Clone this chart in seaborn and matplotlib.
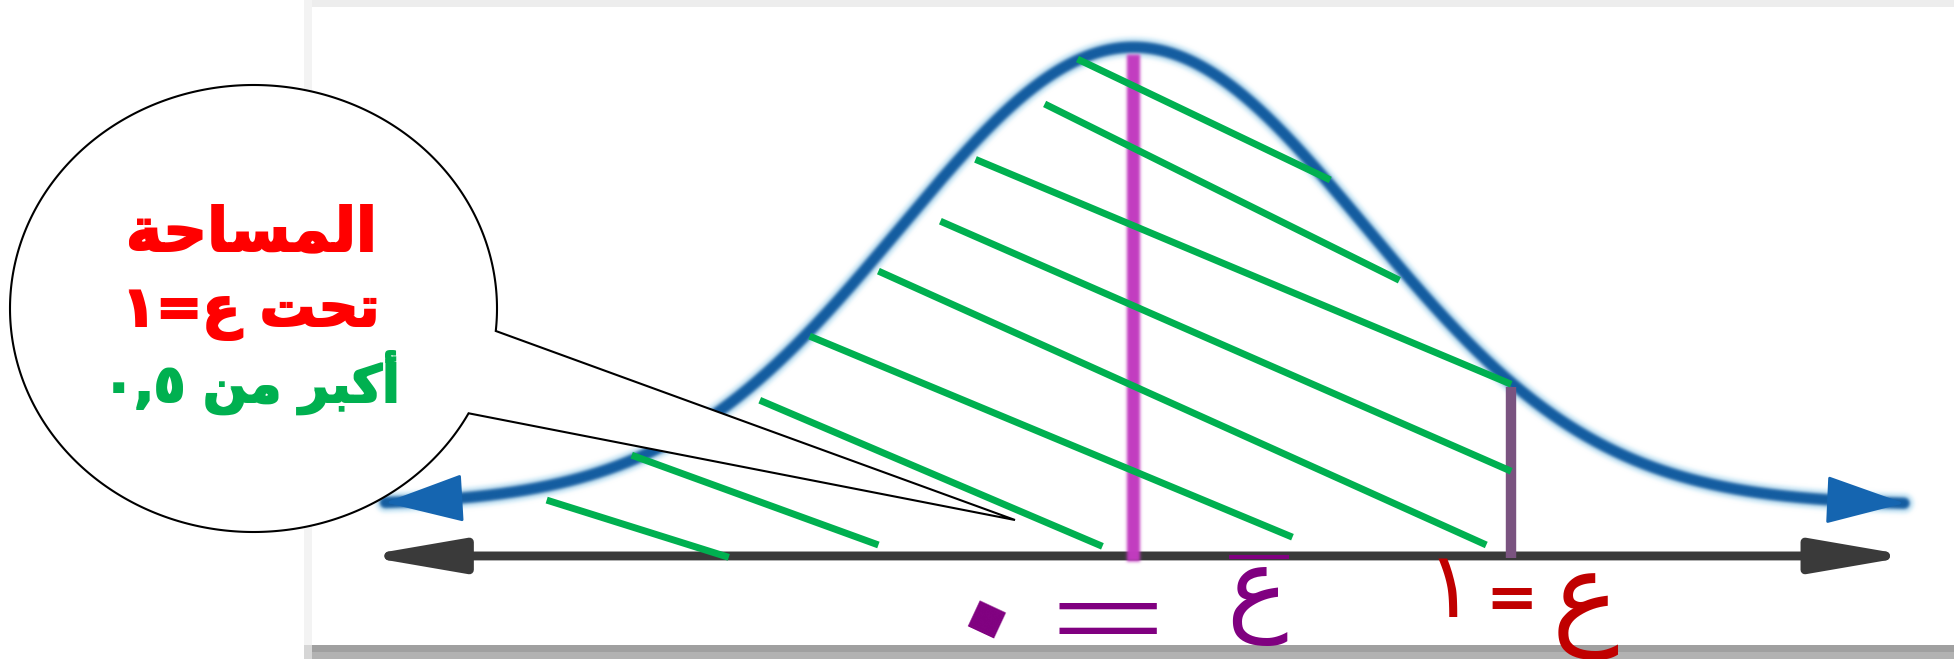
import re
import numpy as np
import matplotlib
matplotlib.use("Agg")
import matplotlib.pyplot as plt
import seaborn as sns
from matplotlib.patches import PathPatch, Rectangle, FancyArrowPatch
from matplotlib.path import Path

# ------------------------------------------------------------------
# content
# ------------------------------------------------------------------
bubble_lines = ["المساحة", "تحت ع=١", "أكبر من ٠,٥"]
bubble_colors = ["#ff0000", "#ff0000", "#00b050"]

mean_label = ["ع", "=", "٠"]        # mean of z equals zero
z_label = ["ع", "=", "١"]           # z = 1

z_mean = 0.0
z_value = 1.0
curve_sd = 0.616                     # spread of the drawn bell (z units)
curve_left, curve_right = -1.98, 2.04
axis_left, axis_right = -2.04, 2.06
axis_level = -0.111

# shading strokes under the curve (z units, relative height)
hatch_x0 = [-0.148, -0.235, -0.418, -0.511, -0.675, -0.857, -0.989, -1.328, -1.553]
hatch_y0 = [0.974, 0.876, 0.755, 0.620, 0.511, 0.369, 0.229, 0.109, 0.011]
hatch_x1 = [0.521, 0.704, 1.000, 1.000, 0.934, 0.421, -0.082, -0.675, -1.071]
hatch_y1 = [0.710, 0.491, 0.264, 0.074, -0.087, -0.070, -0.090, -0.087, -0.114]

W, H = 1954, 659

# ------------------------------------------------------------------
# Arabic contextual shaping + right-to-left ordering for matplotlib
# ------------------------------------------------------------------
_FORMS = {  # isolated, final, initial, medial
    "ا": ("\uFE8D", "\uFE8E", None, None),
    "أ": ("\uFE83", "\uFE84", None, None),
    "ب": ("\uFE8F", "\uFE90", "\uFE91", "\uFE92"),
    "ة": ("\uFE93", "\uFE94", None, None),
    "ت": ("\uFE95", "\uFE96", "\uFE97", "\uFE98"),
    "ح": ("\uFEA1", "\uFEA2", "\uFEA3", "\uFEA4"),
    "ر": ("\uFEAD", "\uFEAE", None, None),
    "س": ("\uFEB1", "\uFEB2", "\uFEB3", "\uFEB4"),
    "ع": ("\uFEC9", "\uFECA", "\uFECB", "\uFECC"),
    "ك": ("\uFED9", "\uFEDA", "\uFEDB", "\uFEDC"),
    "ل": ("\uFEDD", "\uFEDE", "\uFEDF", "\uFEE0"),
    "م": ("\uFEE1", "\uFEE2", "\uFEE3", "\uFEE4"),
    "ن": ("\uFEE5", "\uFEE6", "\uFEE7", "\uFEE8"),
}


def _shape(text):
    out = []
    for i, ch in enumerate(text):
        if ch not in _FORMS:
            out.append(ch)
            continue
        prev = text[i - 1] if i > 0 else None
        nxt = text[i + 1] if i + 1 < len(text) else None
        join_prev = prev in _FORMS and _FORMS[prev][2] is not None
        join_next = nxt in _FORMS and _FORMS[ch][2] is not None
        iso, fin, ini, med = _FORMS[ch]
        if join_prev and join_next:
            out.append(med)
        elif join_prev:
            out.append(fin)
        elif join_next:
            out.append(ini)
        else:
            out.append(iso)
    return "".join(out)


def rtl(text):
    shaped = _shape(text)
    tokens = re.findall(r"[\u0660-\u0669]+(?:[,\u066B][\u0660-\u0669]+)*|.", shaped)
    return "".join(reversed(tokens))


# ------------------------------------------------------------------
# raster filters: soft edges for strokes, heavier weight for lettering
# ------------------------------------------------------------------
class Soften:
    def __init__(self, sigma):
        self.sigma = sigma

    def __call__(self, im, dpi):
        s = self.sigma * dpi / 100.0
        r = max(1, int(np.ceil(3 * s)))
        t = np.arange(-r, r + 1)
        k = np.exp(-0.5 * (t / s) ** 2)
        k /= k.sum()
        pm = np.pad(im, ((r, r), (r, r), (0, 0))).astype(float)
        pm[..., :3] *= pm[..., 3:4]
        for axis in (0, 1):
            acc = np.zeros_like(pm)
            for off, w in zip(t, k):
                acc += w * np.roll(pm, off, axis=axis)
            pm = acc
        alpha = pm[..., 3:4]
        rgb = pm[..., :3] / np.maximum(alpha, 1e-6)
        rgb = np.where(alpha > 1e-6, rgb, 0.0)
        return np.clip(np.concatenate([rgb, alpha], axis=-1), 0, 1), -r, -r


class Thicken:
    def __init__(self, radius):
        self.radius = radius

    def __call__(self, im, dpi):
        r = int(np.ceil(self.radius))
        a = np.pad(im, ((r, r), (r, r), (0, 0))).astype(float)
        out_a = a[..., 3].copy()
        acc = a[..., :3] * a[..., 3:4]
        wsum = a[..., 3].copy()
        for dy in range(-r, r + 1):
            for dx in range(-r, r + 1):
                if (dx == 0 and dy == 0) or dx * dx + dy * dy > self.radius ** 2:
                    continue
                sh = np.roll(np.roll(a, dy, axis=0), dx, axis=1)
                out_a = np.maximum(out_a, sh[..., 3])
                acc += sh[..., :3] * sh[..., 3:4]
                wsum += sh[..., 3]
        rgb = acc / np.maximum(wsum, 1e-6)[..., None]
        return np.clip(np.concatenate([rgb, out_a[..., None]], axis=-1), 0, 1), -r, -r


sns.set_theme(style="white")
plt.rcParams["font.family"] = ["DejaVu Sans"]

fig = plt.figure(figsize=(W / 100, H / 100), dpi=100)
fig.patch.set_facecolor("white")

# page frame (pixel space)
bg = fig.add_axes([0, 0, 1, 1], zorder=0)
bg.set_xlim(0, W)
bg.set_ylim(H, 0)
bg.axis("off")
bg.add_patch(Rectangle((304, 0), W - 304, 7, color="#ededed", lw=0))
bg.add_patch(Rectangle((304, 0), 8, H, color="#f3f3f3", lw=0))
bg.add_patch(Rectangle((312, 645), W - 312, 7, color="#a0a0a0", lw=0))
bg.add_patch(Rectangle((312, 652), W - 312, 7, color="#b2b2b2", lw=0))
bg.add_patch(Rectangle((304, 645), 8, 14, color="#d6d6d6", lw=0))

# chart (z units horizontally, relative height vertically)
ax = fig.add_axes([0, 0, 1, 1], zorder=1)
ax.patch.set_alpha(0)
ax.set_xlim(-3.0, 2.172)
ax.set_ylim(-0.336, 1.103)
ax.axis("off")

# horizontal axis with arrowheads at both ends
axis_arrow = FancyArrowPatch((axis_left, axis_level), (axis_right, axis_level),
                             arrowstyle="<|-|>,head_length=2.9,head_width=0.5",
                             mutation_scale=20, color="#3a3a3a", lw=6.4,
                             shrinkA=0, shrinkB=0, zorder=2)
ax.add_patch(axis_arrow)
axis_arrow.set_agg_filter(Soften(2.2))

# bell curve
z = np.linspace(curve_left, curve_right, 800)
height = np.exp(-0.5 * ((z - z_mean) / curve_sd) ** 2)
sns.lineplot(x=z, y=height, ax=ax, color="#d4ecf8", lw=15, zorder=2.5,
             solid_capstyle="round")
sns.lineplot(x=z, y=height, ax=ax, color="#135ca0", lw=8.3, zorder=3,
             solid_capstyle="round")
for ln in ax.lines:
    ln.set_agg_filter(Soften(1.6))


def bell(v):
    return np.exp(-0.5 * ((v - z_mean) / curve_sd) ** 2)


for tip, back in ((curve_left, curve_left + 0.2), (curve_right, curve_right - 0.2)):
    head = FancyArrowPatch((back, bell(back)), (tip, bell(tip)),
                           arrowstyle="-|>,head_length=0.85,head_width=0.26",
                           mutation_scale=60, color="#1565b0", lw=2,
                           shrinkA=0, shrinkB=0, zorder=3.2)
    ax.add_patch(head)
    head.set_agg_filter(Soften(1.6))

# vertical at the mean
mean_line = ax.vlines(z_mean, axis_level - 0.01, 0.985, color="#c23cc0", lw=9.5,
                      zorder=3.5)
mean_line.set_agg_filter(Soften(1.5))

# vertical at z = 1
ax.vlines(z_value, axis_level - 0.005, bell(z_value) - 0.01, color="#7a5380",
          lw=7.5, zorder=4)

# shading strokes
for x0, y0, x1, y1 in zip(hatch_x0, hatch_y0, hatch_x1, hatch_y1):
    ax.plot([x0, x1], [y0, y1], color="#00b050", lw=5, solid_capstyle="butt",
            zorder=5)

# overline of the mean symbol
ax.hlines(axis_level - 0.002, 0.252, 0.413, color="#800080", lw=3, zorder=6)

# ------------------------------------------------------------------
# callout bubble and labels (pixel space)
# ------------------------------------------------------------------
ov = fig.add_axes([0, 0, 1, 1], zorder=2)
ov.patch.set_alpha(0)
ov.set_xlim(0, W)
ov.set_ylim(H, 0)
ov.axis("off")

cx, cy, rx, ry = 253.5, 308.5, 243.5, 223.5
t_up = np.arctan2((331 - cy) / ry, (496 - cx) / rx)
t_lo = np.arctan2((413 - cy) / ry, (468 - cx) / rx)
th = np.linspace(t_up, t_lo - 2 * np.pi, 500)
verts = list(zip(cx + rx * np.cos(th), cy + ry * np.sin(th)))
verts += [(1015, 520), verts[0]]
codes = [Path.MOVETO] + [Path.LINETO] * (len(verts) - 2) + [Path.CLOSEPOLY]
ov.add_patch(PathPatch(Path(verts, codes), facecolor="white", edgecolor="black",
                       lw=1.5, zorder=1))

for txt, col, base, size in zip(bubble_lines, bubble_colors, (250, 326, 402),
                                (44, 40, 37)):
    t = ov.text(251, base, rtl(txt), color=col, fontsize=size, fontweight="bold",
                ha="center", va="baseline", zorder=2)
    t.set_agg_filter(Thicken(1.5))

# mean label:  ع̄ = ٠
ov.text(1257, 621, rtl(mean_label[0]), color="#800080", fontsize=74,
        ha="center", va="baseline", zorder=2)
ov.text(1108, 668, mean_label[1], color="#800080", fontsize=112, fontweight=200,
        ha="center", va="baseline", zorder=2)
ov.text(963, 677, mean_label[2], color="#800080", fontsize=120, fontweight="bold",
        ha="center", va="baseline", rotation=-25, rotation_mode="anchor", zorder=2)

# z label:  ع = ١
ov.text(1585, 632, rtl(z_label[0]), color="#c00000", fontsize=81,
        ha="center", va="baseline", zorder=2)
ov.text(1512, 618, z_label[1], color="#c00000", fontsize=45, fontweight="bold",
        ha="center", va="baseline", zorder=2)
ov.text(1450, 617, z_label[2], color="#c00000", fontsize=66,
        ha="center", va="baseline", zorder=2)

fig.savefig("out.png", dpi=100, facecolor="white")
